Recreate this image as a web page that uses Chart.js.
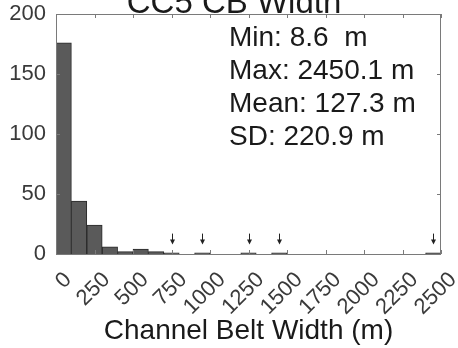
<!DOCTYPE html>
<html>
<head>
<meta charset="utf-8">
<script src="https://cdn.jsdelivr.net/npm/chart.js@4"></script>
<style>
  html, body { margin: 0; padding: 0; background: #fff; }
  #wrap { width: 458px; height: 348px; position: relative; }
</style>
</head>
<body>
<div id="wrap"><canvas id="histChart"></canvas></div>
<script>
// histogram data (bin width 100 m)
const binCenters = [50, 150, 250, 350, 450, 550, 650, 750, 850, 950, 1050, 1150, 1250,
                    1350, 1450, 1550, 1650, 1750, 1850, 1950, 2050, 2150, 2250, 2350, 2450];
const binCounts = [176, 44, 24, 6, 2, 4, 2, 1, 0, 1, 0, 0, 1,
                   0, 1, 0, 0, 0, 0, 0, 0, 0, 0, 0, 1];
const xTicks = [0, 250, 500, 750, 1000, 1250, 1500, 1750, 2000, 2250, 2500];
const yTicks = [0, 50, 100, 150, 200];
// single-value bins marked with an arrow
const arrowX = [750, 950, 1250, 1450, 2450];
const arrowTop = 17;
const arrowTip = 8;
const statsLines = ['Min: 8.6  m', 'Max: 2450.1 m', 'Mean: 127.3 m', 'SD: 220.9 m'];
const titleText = 'CC5 CB Width';
const xTitle = 'Channel Belt Width (m)';

const FONT = "'Liberation Sans', Arial, Helvetica, sans-serif";
const AXIS_COLOR = '#7a7a7a';
const TEXT_COLOR = '#3a3a3a';

const extras = {
    id: 'extras',
    afterDraw: function(chart) {
        const ctx = chart.ctx;
        const xs = chart.scales.x;
        const ys = chart.scales.y;
        const a = chart.chartArea;
        ctx.save();

        // box + inward ticks
        ctx.strokeStyle = AXIS_COLOR;
        ctx.lineWidth = 1;
        ctx.strokeRect(a.left + 0.5, a.top + 0.5, a.right - a.left - 1, a.bottom - a.top);
        ctx.beginPath();
        xTicks.forEach(v => {
            const px = Math.round(xs.getPixelForValue(v)) + 0.5;
            ctx.moveTo(px, a.bottom); ctx.lineTo(px, a.bottom - 4);
            ctx.moveTo(px, a.top); ctx.lineTo(px, a.top + 4);
        });
        yTicks.forEach(v => {
            const py = Math.round(ys.getPixelForValue(v)) + 0.5;
            ctx.moveTo(a.left, py); ctx.lineTo(a.left + 4, py);
            ctx.moveTo(a.right, py); ctx.lineTo(a.right - 4, py);
        });
        ctx.stroke();

        // arrows
        ctx.strokeStyle = '#222';
        ctx.fillStyle = '#222';
        arrowX.forEach(v => {
            const px = Math.round(xs.getPixelForValue(v)) + 0.5;
            const y0 = ys.getPixelForValue(arrowTop);
            const y1 = ys.getPixelForValue(arrowTip);
            ctx.beginPath();
            ctx.moveTo(px, y0); ctx.lineTo(px, y1 - 4);
            ctx.stroke();
            ctx.beginPath();
            ctx.moveTo(px - 2.5, y1 - 5); ctx.lineTo(px + 2.5, y1 - 5); ctx.lineTo(px, y1);
            ctx.closePath();
            ctx.fill();
        });

        // stats text
        ctx.fillStyle = '#1a1a1a';
        ctx.font = '28px ' + FONT;
        ctx.textAlign = 'left';
        ctx.textBaseline = 'middle';
        statsLines.forEach((s, i) => {
            ctx.fillText(s, 229, 38 + i * 33);
        });

        // title, partly cut off at the top like the original
        ctx.font = '33px ' + FONT;
        ctx.textAlign = 'center';
        ctx.textBaseline = 'alphabetic';
        ctx.fillText(titleText, 234, 13);

        ctx.restore();
    }
};

const chart = new Chart(document.getElementById('histChart'), {
    type: 'bar',
    data: {
        datasets: [{
            data: binCenters.map((c, i) => ({ x: c, y: binCounts[i] })),
            backgroundColor: '#5a5a5a',
            borderColor: '#2a2a2a',
            borderWidth: 1,
            barPercentage: 1,
            categoryPercentage: 1
        }]
    },
    options: {
        responsive: true,
        maintainAspectRatio: false,
        animation: false,
        layout: { padding: { top: 14, right: 17, left: 0, bottom: 0 } },
        plugins: {
            legend: { display: false },
            tooltip: { enabled: false },
            title: { display: false }
        },
        scales: {
            x: {
                type: 'linear',
                min: 0,
                max: 2500,
                offset: false,
                afterFit: function(s) {
                    s.height = 94;
                    s.paddingLeft = 0;
                    s.paddingRight = 0;
                },
                afterBuildTicks: function(s) { s.ticks = xTicks.map(v => ({ value: v })); },
                grid: { display: false, drawTicks: false },
                border: { display: false },
                ticks: {
                    maxRotation: 45,
                    minRotation: 45,
                    autoSkip: false,
                    padding: 13,
                    labelOffset: 12,
                    color: TEXT_COLOR,
                    font: { size: 22, family: FONT },
                    callback: function(value) { return String(value); }
                },
                title: {
                    display: true,
                    text: xTitle,
                    color: '#1a1a1a',
                    font: { size: 28, family: FONT },
                    padding: 0
                }
            },
            y: {
                min: 0,
                max: 200,
                afterFit: function(s) {
                    s.width = 56;
                    s.paddingTop = 0;
                    s.paddingBottom = 0;
                },
                afterBuildTicks: function(s) { s.ticks = yTicks.map(v => ({ value: v })); },
                grid: { display: false, drawTicks: false },
                border: { display: false },
                ticks: {
                    padding: 10,
                    color: TEXT_COLOR,
                    font: { size: 22, family: FONT }
                }
            }
        }
    },
    plugins: [extras]
});
</script>
</body>
</html>
